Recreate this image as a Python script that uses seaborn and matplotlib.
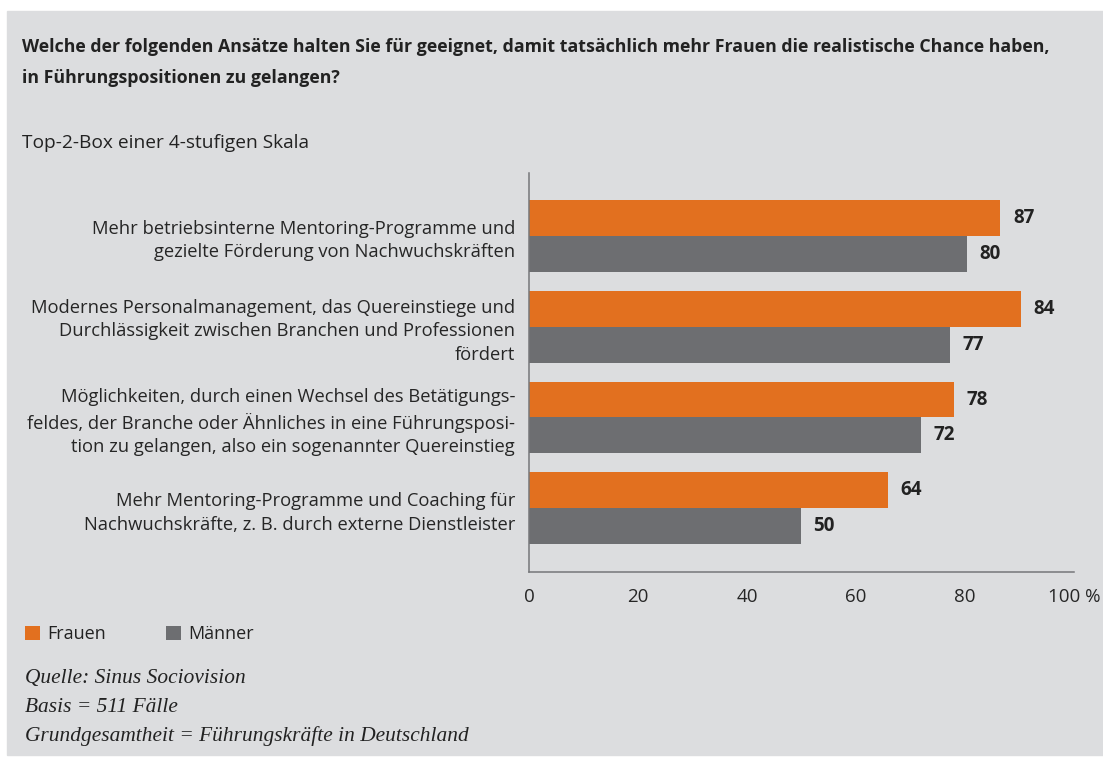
import pandas as pd
import matplotlib
matplotlib.use('Agg')
import matplotlib.pyplot as plt
import seaborn as sns
from matplotlib.patches import Patch, Rectangle

# Daten
ansaetze = [
    'Mehr betriebsinterne Mentoring-Programme und\ngezielte Förderung von Nachwuchskräften',
    'Modernes Personalmanagement, das Quereinstiege und\nDurchlässigkeit zwischen Branchen und Professionen\nfördert',
    'Möglichkeiten, durch einen Wechsel des Betätigungs-\nfeldes, der Branche oder Ähnliches in eine Führungsposi-\ntion zu gelangen, also ein sogenannter Quereinstieg',
    'Mehr Mentoring-Programme und Coaching für\nNachwuchskräfte, z. B. durch externe Dienstleister',
]
# Balkenlängen wie im Bild gezeichnet
frauen = [86.5, 90.2, 78, 65.9]
maenner = [80.4, 77.3, 72, 49.9]
# Beschriftung an den Balken
frauen_label = [87, 84, 78, 64]
maenner_label = [80, 77, 72, 50]
gruppen = ['Frauen', 'Männer']
xticks = [0, 20, 40, 60, 80, 100]
xticklabels = ['0', '20', '40', '60', '80', '100 %']

titel = ['Welche der folgenden Ansätze halten Sie für geeignet, damit tatsächlich mehr Frauen die realistische Chance haben,',
         'in Führungspositionen zu gelangen?']
untertitel = 'Top-2-Box einer 4-stufigen Skala'
quelle = ['Quelle: Sinus Sociovision', 'Basis = 511 Fälle',
          'Grundgesamtheit = Führungskräfte in Deutschland']

df = pd.DataFrame({
    'Ansatz': ansaetze * 2,
    'Wert': frauen + maenner,
    'Gruppe': [gruppen[0]] * 4 + [gruppen[1]] * 4,
})

orange = '#e2701f'
grau = '#6d6e71'
bg = '#dcdddf'
achse = '#76777a'

sns.set_style('white')
plt.rcParams['font.family'] = ['Open Sans', 'DejaVu Sans']
plt.rcParams['text.color'] = '#222222'

W, H = 1103, 763
fig = plt.figure(figsize=(W / 100, H / 100), dpi=100)
fig.patch.set_facecolor('white')
fig.add_artist(Rectangle((7 / W, 1 - 755 / H), (W - 7) / W, (755 - 11) / H,
                         transform=fig.transFigure, color=bg, zorder=-1))

ax = fig.add_axes([529 / W, 1 - 572 / H, (1074 - 529) / W, (572 - 173) / H])
ax.set_facecolor('none')

sns.barplot(data=df, y='Ansatz', x='Wert', hue='Gruppe', orient='h',
            palette=[orange, grau], saturation=1, width=0.79, legend=False,
            edgecolor='none', linewidth=0, ax=ax)

for cont, lab in zip(ax.containers, [frauen_label, maenner_label]):
    ax.bar_label(cont, labels=[str(v) for v in lab], padding=9,
                 fontsize=13.5, fontweight='bold', color='#222222')

ylo, yhi = 3.70, -0.69
ax.set_ylim(ylo, yhi)
ax.set_xlim(0, 100)
ax.set_yticks(range(len(ansaetze)))
ax.set_yticklabels(ansaetze, fontsize=13.2, linespacing=1.4)
ax.set_yticks([yhi, 0.5, 1.5, 2.5, ylo], minor=True)
ax.tick_params(axis='y', which='major', length=0, pad=10)
ax.tick_params(axis='y', which='minor', length=4, width=1.1, color=achse, direction='out')
ax.set_xticks(xticks)
ax.set_xticklabels(xticklabels, fontsize=13.5)
ax.tick_params(axis='x', length=4.5, width=1.1, color=achse, direction='out', pad=7)
ax.set_xlabel('')
ax.set_ylabel('')

for s in ['top', 'right']:
    ax.spines[s].set_visible(False)
for s in ['left', 'bottom']:
    ax.spines[s].set_color(achse)
    ax.spines[s].set_linewidth(1.1)

# Titel
fig.text(22 / W, 1 - 47 / H, titel[0], fontsize=12.8, fontweight='bold', va='center')
fig.text(22 / W, 1 - 78 / H, titel[1], fontsize=12.8, fontweight='bold', va='center')
fig.text(22 / W, 1 - 143 / H, untertitel, fontsize=13.8, va='center')

# Legende
handles = [Patch(facecolor=orange, edgecolor='none'), Patch(facecolor=grau, edgecolor='none')]
fig.legend(handles, gruppen, loc='center left', bbox_to_anchor=(25 / W, 1 - 634 / H),
           frameon=False, ncol=2, fontsize=13, handlelength=0.85, handleheight=0.85,
           handletextpad=0.4, columnspacing=3.3, borderaxespad=0, borderpad=0)

# Quelle
for y, t in zip([678, 708, 736], quelle):
    fig.text(25 / W, 1 - y / H, t, fontsize=15.4, style='italic',
             family=['Liberation Serif', 'DejaVu Serif'], va='center', color='#222222')

fig.savefig('out.png', dpi=100)
